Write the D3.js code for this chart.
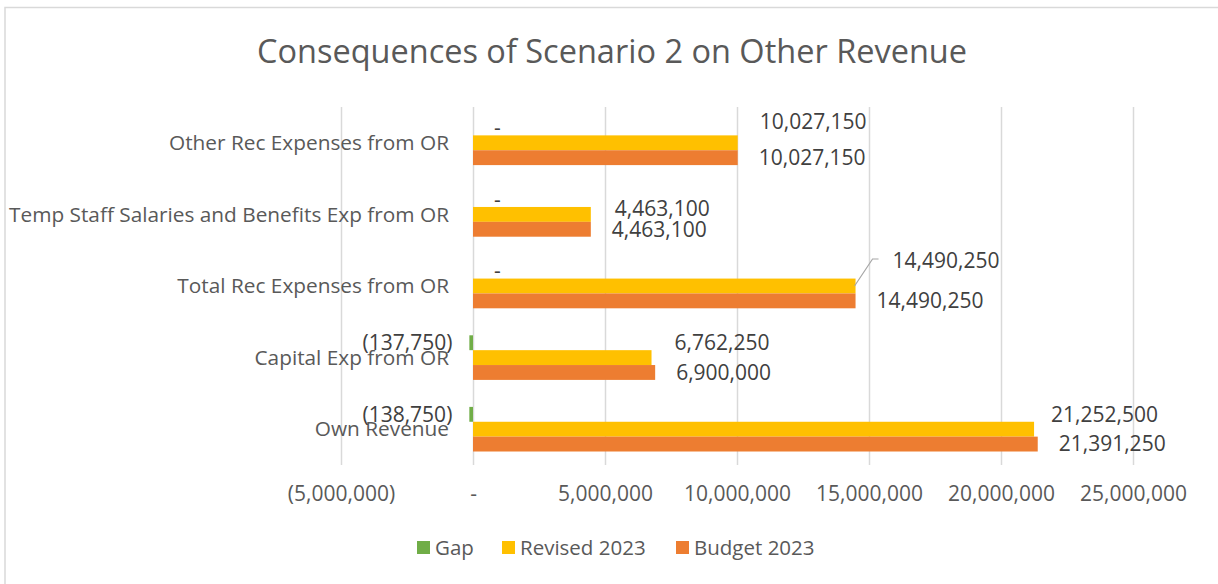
<!DOCTYPE html>
<html>
<head>
<meta charset="utf-8">
<script src="https://cdn.jsdelivr.net/npm/d3@7"></script>
<style>
  body { margin: 0; background: #fff; }
  text { font-family: "Open Sans", sans-serif; }
</style>
</head>
<body>
<div id="chart"></div>
<script>
// data, top category first
var categories = ["Other Rec Expenses from OR", "Temp Staff Salaries and Benefits Exp from OR",
                  "Total Rec Expenses from OR", "Capital Exp from OR", "Own Revenue"];
var seriesNames = ["Gap", "Revised 2023", "Budget 2023"];
var gap = [0, 0, 0, -137750, -138750];
var revised = [10027150, 4463100, 14490250, 6762250, 21252500];
var budget = [10027150, 4463100, 14490250, 6900000, 21391250];
var xTicks = [-5000000, 0, 5000000, 10000000, 15000000, 20000000, 25000000];

// manual label moves for the Revised 2023 labels (px, like dragged labels in the original)
var revisedLabelMove = [[1, -21], [3, -6], [16, -25], [2, -15], [-4, -15]];

var colors = ["#70AD47", "#FFC000", "#ED7D31"];
var values = [gap, revised, budget];

var w = 1218, h = 584;
var plotLeft = 341, plotRight = 1133, plotTop = 107, plotBottom = 465;

var svg = d3.select("#chart").append("svg")
    .attr("width", w)
    .attr("height", h);

// chart frame
svg.append("rect")
    .attr("x", 5).attr("y", 7.5)
    .attr("width", w + 10).attr("height", h + 10)
    .attr("fill", "none")
    .attr("stroke", "#d9d9d9")
    .attr("stroke-width", 1.5);

// title
svg.append("text")
    .attr("x", 612).attr("y", 63)
    .attr("text-anchor", "middle")
    .attr("font-size", 32.5)
    .attr("fill", "#595959")
    .text("Consequences of Scenario 2 on Other Revenue");

var xScale = d3.scaleLinear()
    .domain([-5000000, 25000000])
    .range([plotLeft, plotRight]);

var yScale = d3.scaleBand()
    .domain(categories)
    .range([plotTop, plotBottom])
    .paddingInner(0.377)
    .paddingOuter(0.1885);

var subScale = d3.scaleBand()
    .domain(seriesNames)
    .range([0, yScale.bandwidth()]);

function fmt(d) {
    if (d === 0) return "-";
    if (d < 0) return "(" + d3.format(",")(-d) + ")";
    return d3.format(",")(d);
}

// gridlines + tick labels
var xAxis = d3.axisBottom(xScale)
    .tickValues(xTicks)
    .tickSize(-(plotBottom - plotTop))
    .tickPadding(21)
    .tickFormat(fmt);

var gx = svg.append("g")
    .attr("transform", "translate(0," + plotBottom + ")")
    .call(xAxis);
gx.select(".domain").remove();
gx.selectAll("line").attr("stroke", "#d9d9d9").attr("stroke-width", 1.5);
gx.selectAll("text")
    .attr("font-size", 21)
    .attr("fill", "#595959")
    .style("font-family", "Open Sans");

// category labels
svg.append("g").selectAll("text")
    .data(categories)
    .join("text")
    .attr("x", 449)
    .attr("y", function(d) { return yScale(d) + yScale.bandwidth() / 2; })
    .attr("dy", "0.35em")
    .attr("text-anchor", "end")
    .attr("font-size", 20.8)
    .attr("fill", "#595959")
    .text(function(d) { return d; });

// bars
seriesNames.forEach(function(s, si) {
    var rows = categories.map(function(c, ci) { return { cat: c, v: values[si][ci], i: ci }; });

    svg.append("g").selectAll("rect")
        .data(rows)
        .join("rect")
        .attr("x", function(d) { return xScale(Math.min(0, d.v)); })
        .attr("y", function(d) { return yScale(d.cat) + subScale(s); })
        .attr("width", function(d) { return Math.abs(xScale(d.v) - xScale(0)); })
        .attr("height", subScale.bandwidth())
        .attr("fill", colors[si]);
});

// data labels
seriesNames.forEach(function(s, si) {
    var rows = categories.map(function(c, ci) { return { cat: c, v: values[si][ci], i: ci }; });

    svg.append("g").selectAll("text")
        .data(rows)
        .join("text")
        .attr("x", function(d) {
            var x = d.v < 0 ? xScale(d.v) - 17 : xScale(d.v) + 21;
            if (si === 1) x += revisedLabelMove[d.i][0];
            return x;
        })
        .attr("y", function(d) {
            var y = yScale(d.cat) + subScale(s) + subScale.bandwidth() / 2;
            if (si === 1) y += revisedLabelMove[d.i][1];
            return y;
        })
        .attr("dy", "0.35em")
        .attr("text-anchor", function(d) { return d.v < 0 ? "end" : "start"; })
        .attr("font-size", 21)
        .attr("fill", "#404040")
        .text(function(d) { return fmt(d.v); });
});

// leader line for the moved Total Rec label
var li = 2;
var lx = xScale(revised[li]);
var ly = yScale(categories[li]) + subScale("Revised 2023") + subScale.bandwidth() / 2;
svg.append("path")
    .attr("d", d3.line()([[lx - 1, ly], [lx + 17, ly + revisedLabelMove[li][1] - 2], [lx + 23, ly + revisedLabelMove[li][1] - 2]]))
    .attr("fill", "none")
    .attr("stroke", "#a6a6a6")
    .attr("stroke-width", 1.2);

// legend
var legendX = [417, 502, 676];
var legend = svg.append("g").selectAll("g")
    .data(seriesNames)
    .join("g")
    .attr("transform", function(d, i) { return "translate(" + legendX[i] + ",541)"; });
legend.append("rect")
    .attr("width", 13).attr("height", 13)
    .attr("fill", function(d, i) { return colors[i]; });
legend.append("text")
    .attr("x", 18).attr("y", 6.5)
    .attr("dy", "0.35em")
    .attr("font-size", 20.5)
    .attr("fill", "#595959")
    .text(function(d) { return d; });
</script>
</body>
</html>
